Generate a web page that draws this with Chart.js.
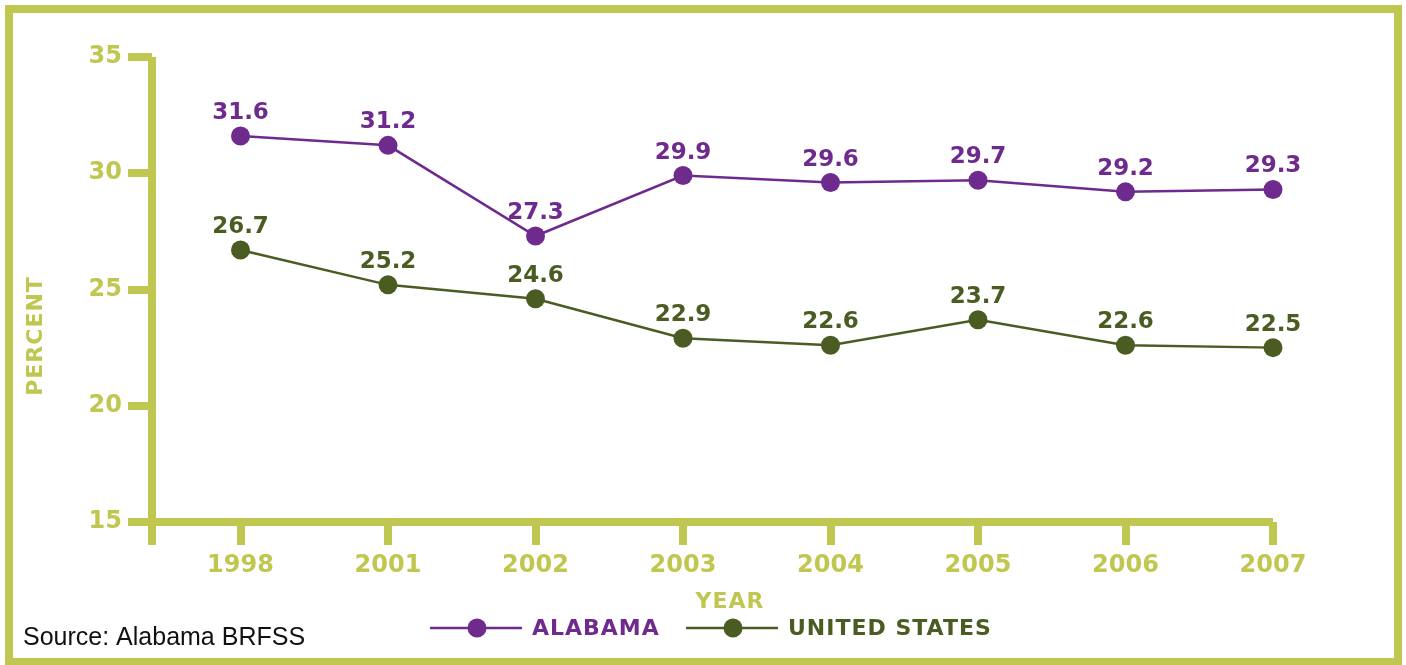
<!DOCTYPE html>
<html lang="en">
<head>
<meta charset="UTF-8">
<title>Percent by year - Alabama vs United States</title>
<style>
  body { margin: 0; background: #fff; }
  .wrap { position: relative; width: 1406px; height: 665px; overflow: hidden; }
  .frame {
    position: absolute; left: 5px; top: 5px; width: 1381px; height: 645px;
    border: 8px solid #c0c750; pointer-events: none;
  }
</style>
</head>
<body>
<div class="wrap">
  <canvas id="chart"></canvas>
  <div class="frame"></div>
</div>

<script src="https://cdn.jsdelivr.net/npm/chart.js"></script>
<script>
  const years = ['1998', '2001', '2002', '2003', '2004', '2005', '2006', '2007'];
  const alabama = [31.6, 31.2, 27.3, 29.9, 29.6, 29.7, 29.2, 29.3];
  const unitedStates = [26.7, 25.2, 24.6, 22.9, 22.6, 23.7, 22.6, 22.5];
  const yTicks = [15, 20, 25, 30, 35];

  const lime = '#c0c750';
  const purple = '#6f2a8e';
  const green = '#4a5c22';
  const xMin = -0.6;

  Chart.defaults.font.family = 'DejaVu Sans';

  // value labels above each point
  const valueLabels = {
    id: 'valueLabels',
    afterDatasetsDraw(chart) {
      const ctx = chart.ctx;
      ctx.save();
      ctx.font = 'bold 23px "DejaVu Sans"';
      ctx.textAlign = 'center';
      ctx.textBaseline = 'middle';
      chart.data.datasets.forEach((ds, i) => {
        chart.getDatasetMeta(i).data.forEach((pt, j) => {
          ctx.fillStyle = ds.borderColor;
          ctx.fillText(ds.data[j].y.toFixed(1), pt.x, pt.y - 23);
        });
      });
      ctx.restore();
    }
  };

  // axis titles, legend, source note
  const extras = {
    id: 'extras',
    afterDraw(chart) {
      const ctx = chart.ctx;
      ctx.save();
      ctx.letterSpacing = '1px';
      ctx.font = 'bold 22px "DejaVu Sans"';
      ctx.textBaseline = 'middle';

      ctx.fillStyle = lime;
      ctx.textAlign = 'center';
      ctx.fillText('YEAR', 730, 602);

      ctx.save();
      ctx.translate(36, 336);
      ctx.rotate(-Math.PI / 2);
      ctx.fillText('PERCENT', 0, 0);
      ctx.restore();

      const items = [
        { label: 'ALABAMA', color: purple, x: 430 },
        { label: 'UNITED STATES', color: green, x: 686 }
      ];
      items.forEach(it => {
        ctx.strokeStyle = it.color;
        ctx.lineWidth = 2.5;
        ctx.beginPath();
        ctx.moveTo(it.x, 628);
        ctx.lineTo(it.x + 92, 628);
        ctx.stroke();
        ctx.fillStyle = it.color;
        ctx.beginPath();
        ctx.arc(it.x + 47, 628, 9.5, 0, Math.PI * 2);
        ctx.fill();
        ctx.textAlign = 'left';
        ctx.fillText(it.label, it.x + 102, 629);
      });

      ctx.letterSpacing = '0px';
      ctx.font = '25px "Liberation Sans"';
      ctx.fillStyle = '#111';
      ctx.textAlign = 'left';
      ctx.fillText('Source: Alabama BRFSS', 23, 638);
      ctx.restore();
    }
  };

  const toPoints = arr => arr.map((v, i) => ({ x: i, y: v }));

  new Chart(document.getElementById('chart'), {
    type: 'line',
    data: {
      datasets: [{
        label: 'ALABAMA',
        data: toPoints(alabama),
        borderColor: purple,
        backgroundColor: purple,
        borderWidth: 2.5,
        pointRadius: 9.5,
        pointBorderWidth: 0,
        tension: 0,
        clip: false
      }, {
        label: 'UNITED STATES',
        data: toPoints(unitedStates),
        borderColor: green,
        backgroundColor: green,
        borderWidth: 2.5,
        pointRadius: 9.5,
        pointBorderWidth: 0,
        tension: 0,
        clip: false
      }]
    },
    options: {
      responsive: true,
      maintainAspectRatio: false,
      animation: false,
      layout: { padding: { top: 57, left: 0, right: 133, bottom: 73 } },
      plugins: { legend: { display: false }, tooltip: { enabled: false } },
      scales: {
        x: {
          type: 'linear',
          min: xMin,
          max: years.length - 1,
          afterBuildTicks: s => { s.ticks = [xMin, ...years.map((_, i) => i)].map(v => ({ value: v })); },
          afterFit: s => { s.height = 70; },
          border: { display: false },
          grid: {
            color: c => (c.tick && c.tick.value === xMin ? lime : 'rgba(0,0,0,0)'),
            lineWidth: 8,
            tickColor: lime,
            tickWidth: 8,
            tickLength: 23
          },
          ticks: {
            autoSkip: false,
            maxRotation: 0,
            padding: 6,
            color: lime,
            font: { size: 24, weight: 'bold' },
            callback: v => (Number.isInteger(v) ? years[v] : '')
          }
        },
        y: {
          min: yTicks[0],
          max: yTicks[yTicks.length - 1],
          afterBuildTicks: s => { s.ticks = yTicks.map(v => ({ value: v })); },
          afterFit: s => { s.width = 152; },
          border: { display: false },
          grid: {
            color: c => (c.tick && c.tick.value === yTicks[0] ? lime : 'rgba(0,0,0,0)'),
            lineWidth: 8,
            tickColor: lime,
            tickWidth: 8,
            tickLength: 24
          },
          ticks: {
            padding: 6,
            color: lime,
            font: { size: 24, weight: 'bold' }
          }
        }
      }
    },
    plugins: [valueLabels, extras]
  });
</script>
</body>
</html>
